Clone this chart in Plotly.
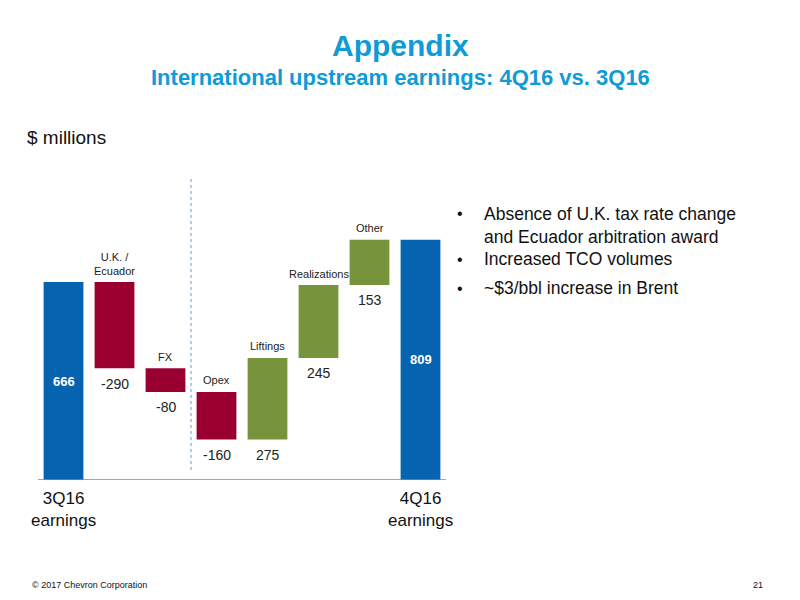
import plotly.graph_objects as go

categories = ["3Q16", "U.K. /<br>Ecuador", "FX", "Opex", "Liftings", "Realizations", "Other", "4Q16"]
values = [666, -290, -80, -160, 275, 245, 153, 809]
kinds = ["total", "rel", "rel", "rel", "rel", "rel", "rel", "total"]
bullets = ["Absence of U.K. tax rate change<br>and Ecuador arbitration award",
           "Increased TCO volumes", "~$3/bbl increase in Brent"]

GREEN, RED, BLUE = "#77933C", "#99002F", "#0563B0"
bases, heights, colors = [], [], []
run = 0
for v, k in zip(values, kinds):
    if k == "total":
        bases.append(0); heights.append(v); colors.append(BLUE); run = v
    else:
        if v >= 0:
            bases.append(run); heights.append(v); colors.append(GREEN)
        else:
            bases.append(run + v); heights.append(-v); colors.append(RED)
        run += v

OFF = 8
T = 160 - OFF
x = list(range(len(values)))
fig = go.Figure(go.Bar(x=x, y=heights, base=bases, marker_color=colors, width=0.78,
                       marker_line_width=0, hoverinfo="skip"))
ann = []
for i, (v, k, b, h) in enumerate(zip(values, kinds, bases, heights)):
    if k == "total":
        ann.append(dict(x=i, y=(330 if i == 0 else 405), text=f"<b>{v}</b>", yanchor="middle",
                        font=dict(color="white", size=13), showarrow=False))
    else:
        ann.append(dict(x=i, y=b - 18, text=str(v), yanchor="top",
                        font=dict(color="#222", size=14), showarrow=False))
        ann.append(dict(x=i, y=b + h + 12, text=categories[i], yanchor="bottom",
                        font=dict(color="#222", size=11), showarrow=False))
def py(p): return (480 - p) / 320
def px(p): return (p - 38) / 408
ann += [
    dict(x=0, y=py(487), text="3Q16<br>earnings", xref="x", yref="paper", yanchor="top", showarrow=False, font=dict(size=17, color="#111")),
    dict(x=7, y=py(487), text="4Q16<br>earnings", xref="x", yref="paper", yanchor="top", showarrow=False, font=dict(size=17, color="#111")),
    dict(x=px(400), y=py(45), xref="paper", yref="paper", showarrow=False, text="<b>Appendix</b>",
         xanchor="center", yanchor="middle", font=dict(size=30, color="#0E9BD7")),
    dict(x=px(400), y=py(77), xref="paper", yref="paper", showarrow=False, xanchor="center", yanchor="middle",
         text="<b>International upstream earnings: 4Q16 vs. 3Q16</b>", font=dict(size=22, color="#0E9BD7")),
    dict(x=px(25), y=py(138), xref="paper", yref="paper", showarrow=False, text="$ millions",
         font=dict(size=19, color="#111"), xanchor="left", yanchor="middle"),
    dict(x=px(30), y=py(585), xref="paper", yref="paper", showarrow=False, text="© 2017 Chevron Corporation",
         font=dict(size=9, color="#111"), xanchor="left", yanchor="middle"),
    dict(x=px(765), y=py(585), xref="paper", yref="paper", showarrow=False, text="21",
         font=dict(size=9, color="#111"), xanchor="right", yanchor="middle"),
]
for j, (t, yy) in enumerate(zip(bullets, [213, 259, 288])):
    ann.append(dict(x=px(455), y=py(yy), xref="paper", yref="paper", showarrow=False,
                    text="•", font=dict(size=16, color="#111"), xanchor="left", yanchor="middle"))
    ann.append(dict(x=px(482), y=py(yy - 11 if j == 0 else yy), xref="paper", yref="paper", showarrow=False,
                    text=t, align="left", font=dict(size=17.5, color="#111"), xanchor="left",
                    yanchor="top" if j == 0 else "middle"))
fig.update_layout(
    width=800, height=600, margin=dict(l=38 - OFF, r=800 - 446 + OFF, t=T, b=600 - T - 320),
    paper_bgcolor="white", plot_bgcolor="white", showlegend=False,
    font=dict(family="Liberation Sans, Arial"),
    xaxis=dict(range=[-0.5, 7.5], showticklabels=False, showgrid=False, zeroline=False, fixedrange=True),
    yaxis=dict(range=[0, 1077], visible=False),
    annotations=ann,
    shapes=[dict(type="line", xref="paper", yref="y", x0=0, x1=1, y0=0, y1=0, line=dict(color="#888", width=1.5)),
            dict(type="line", xref="x", yref="paper", x0=2.5, x1=2.5, y0=py(470), y1=py(178),
                 line=dict(color="#5B9BD5", width=1, dash="dot"))],
)
fig.write_html("out.html")
